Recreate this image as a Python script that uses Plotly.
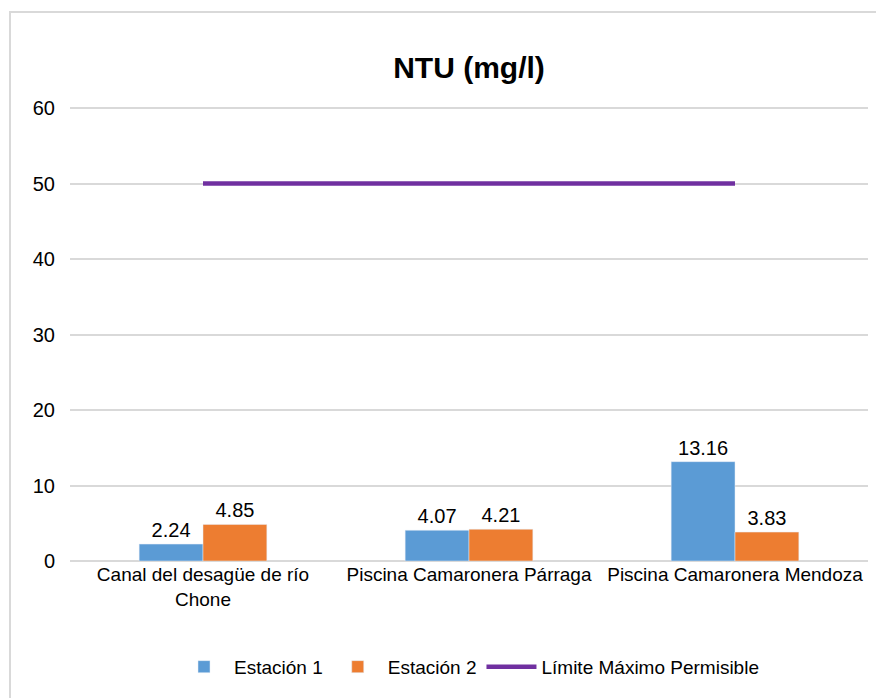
import plotly.graph_objects as go

categories = ["Canal del desagüe de río<br>Chone", "Piscina Camaronera Párraga", "Piscina Camaronera Mendoza"]
estacion_1 = [2.24, 4.07, 13.16]
estacion_2 = [4.85, 4.21, 3.83]
limite = [50, 50, 50]

FONT = "Liberation Sans, Arial, sans-serif"

fig = go.Figure()

fig.add_trace(go.Bar(x=categories, y=estacion_1, name="Estación 1",
                     marker=dict(color="#5B9BD5"),
                     texttemplate="%{y:.2f}", textposition="outside",
                     textfont=dict(size=20, color="#000000"), cliponaxis=False))
fig.add_trace(go.Bar(x=categories, y=estacion_2, name="Estación 2",
                     marker=dict(color="#ED7D31"),
                     texttemplate="%{y:.2f}", textposition="outside",
                     textfont=dict(size=20, color="#000000"), cliponaxis=False))
fig.add_trace(go.Scatter(x=categories, y=limite, name="Límite Máximo Permisible",
                         mode="lines", line=dict(color="#7030A0", width=4.5)))

# page body adds 8px offset, so figure is 8px smaller
fig.update_layout(
    width=876, height=690,
    margin=dict(l=62, r=16, t=99, b=137),
    paper_bgcolor="white", plot_bgcolor="white",
    font=dict(family=FONT, size=19, color="#000000"),
    title=dict(text="<b>NTU (mg/l)</b>", x=0.5, xref="paper", y=0.914, yref="container",
               yanchor="middle", font=dict(size=30, family=FONT)),
    barmode="group", bargap=0.52, bargroupgap=0,
    legend=dict(orientation="h", x=0.5, xanchor="center", y=-0.233, yanchor="middle",
                font=dict(size=19), itemwidth=50),
    showlegend=True,
)

fig.update_yaxes(range=[0, 60.15], dtick=10, showgrid=True, gridcolor="#D9D9D9", gridwidth=1.5,
                 zeroline=True, zerolinecolor="#D9D9D9", zerolinewidth=1.5,
                 ticks="", ticklabelstandoff=14, showline=False, tickfont=dict(size=20))
fig.update_xaxes(showgrid=False, ticks="", showline=False, tickangle=0)

# chart frame
fig.add_shape(type="rect", xref="paper", yref="paper",
              x0=-0.0752, x1=1.05, y0=-0.4, y1=1.209,
              line=dict(color="#D9D9D9", width=2), fillcolor="rgba(0,0,0,0)", layer="below")

fig.write_html("out.html")
